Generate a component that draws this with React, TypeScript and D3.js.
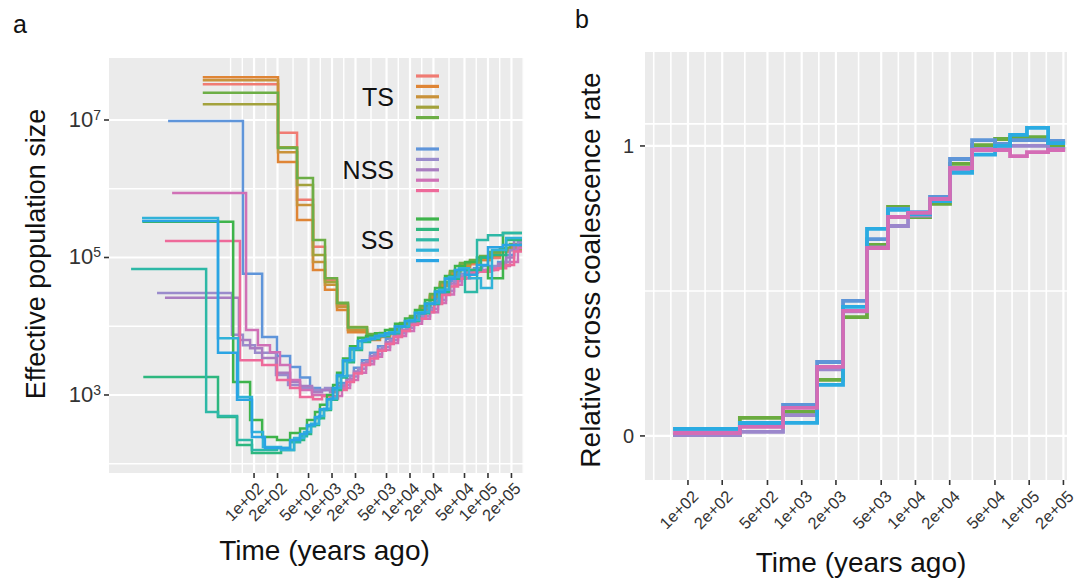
import React from "react";
import * as d3 from "d3";

const W = 1077;
const H = 585;
const FONT = "'Liberation Sans', Arial, Helvetica, sans-serif";

// ---------------- Panel a data ----------------
const A_X_BREAKS = [100, 200, 500, 1000, 2000, 5000, 10000, 20000, 50000, 100000, 200000];
const A_X_LABELS = ["1e+02", "2e+02", "5e+02", "1e+03", "2e+03", "5e+03", "1e+04", "2e+04", "5e+04", "1e+05", "2e+05"];
const A_Y_BREAKS = [1e3, 1e5, 1e7];
const A_Y_EXPONENTS = ["3", "5", "7"];
const A_Y_MINOR = [1e2, 1e4, 1e6];

// TS group: shared time boundaries (years)
const TS_TIMES = [22, 203, 356, 570, 813, 1160, 1604, 2810, 4125, 5540, 7450, 10000, 13440, 18060, 24260, 32590, 43780, 58800, 78980, 106100, 142500, 191400, 272800];
const TS_SALMON = [3.3e7, 6.5e6, 6.9e5, 1.43e5, 4.7e4, 2.0e4, 8800, 6800, 7200, 8200, 10000, 12700, 17800, 26600, 40000, 57500, 75000, 80000, 92000, 98000, 120000, 129000];
const TS_ORANGE = [4.2e7, 2.45e6, 3.5e5, 6.6e4, 3.4e4, 1.72e4, 8200, 6300, 7000, 8000, 9750, 12300, 17200, 25800, 38500, 55600, 72800, 83200, 92000, 105000, 129000, 147000];
const TS_BROWN = [3.8e7, 3.4e6, 5.8e5, 8.6e4, 4.0e4, 1.9e4, 8800, 7000, 7500, 8500, 10400, 13000, 18400, 27500, 41200, 59600, 77800, 86000, 100000, 112000, 129000, 137000];
const TS_OLIVE = [1.7e7, 4.0e6, 1.13e6, 1.09e5, 4.4e4, 2.1e4, 9750, 7500, 7700, 8800, 10900, 13600, 19000, 28500, 42600, 61500, 80400, 88900, 101600, 112400, 129000, 129000];
const TS_GREEN = [2.5e7, 3.9e6, 1.43e6, 1.8e5, 5.0e4, 2.2e4, 9600, 7700, 8000, 9100, 11100, 14100, 19700, 29500, 44000, 63700, 83200, 92000, 105000, 120000, 137000, 157000];

// NSS group: two staggered time grids for the later segments
const NSS_RISE_A = [943, 1194, 1540, 1910, 2420, 3071, 3888, 4900, 6200, 7900, 10000, 12700, 16000, 20400, 25800, 32600, 41300, 52400, 66400, 84100, 106000, 135000, 171000, 216000, 273000];
const NSS_RISE_B = [1060, 1343, 1702, 2154, 2730, 3454, 4375, 5543, 7017, 8890, 11250, 14250, 18060, 22860, 28950, 36650, 46400, 58800, 74430, 94200, 119400, 151000, 191400, 242400, 273000];

const NSS_BLUE_EARLY_T = [7.9, 72, 127, 197, 290, 389, 522, 701];
const NSS_BLUE = [9.7e6, 5.8e4, 7000, 3700, 2550, 1800, 1260, 1180, 1180, 1490, 1900, 2500, 3200, 4100, 5100, 6600, 8200, 9900, 12300, 14600, 18500, 25000, 34000, 46000, 58000, 66000, 70000, 75000, 70000, 86000, 109000, 152000];
const NSS_LAV_EARLY_T = [5.7, 52, 72, 103, 191, 273, 389, 570, 813];
const NSS_LAV = [3.05e4, 7500, 5300, 4100, 1950, 1400, 1260, 1180, 1260, 1260, 1400, 1850, 2400, 3100, 3900, 5000, 6300, 7900, 9500, 11900, 14000, 17800, 24000, 32600, 45000, 56000, 66000, 62000, 66000, 75000, 86000, 129000, 167000];
const NSS_PURPLE_EARLY_T = [7.2, 64, 89, 127, 197, 290, 389, 554, 744];
const NSS_PURPLE = [2.6e4, 6300, 4800, 3450, 2100, 1550, 1350, 1100, 1180, 1100, 1350, 1700, 2200, 2900, 3700, 4600, 5900, 7500, 8800, 11100, 13000, 16700, 22700, 30000, 42000, 52000, 62000, 66000, 66000, 70000, 81000, 100000, 180000];
const NSS_MAGENTA_EARLY_T = [8.9, 79, 112, 160, 215, 290, 389, 554, 813];
const NSS_MAGENTA = [8.7e5, 8800, 5300, 4200, 2730, 1650, 1180, 1000, 970, 970, 1260, 1650, 2100, 2800, 3600, 4500, 5700, 7200, 8500, 10900, 12800, 16000, 21800, 29000, 40000, 50000, 60000, 64000, 66000, 70000, 75000, 86000, 137000];
const NSS_PINK_EARLY_T = [7.2, 66, 127, 197, 290, 389, 570, 744];
const NSS_PINK = [1.74e5, 3200, 2730, 1650, 1260, 935, 870, 970, 890, 1180, 1550, 2050, 2730, 3400, 4400, 5500, 7000, 8500, 10400, 12800, 16000, 21000, 28500, 38000, 49000, 58000, 62000, 62000, 66000, 70000, 78000, 122000];

// SS group
const SS_RISE_A = [197, 290, 389, 478, 605, 701, 863, 1030, 1160, 1384, 1702, 2154, 2730, 3559, 4782, 6425, 8630, 11590, 15580, 20930, 28120, 37770, 50730, 72300, 100000, 155700, 272800];
const SS_RISE_B = [222, 326, 438, 538, 681, 789, 970, 1160, 1303, 1556, 1910, 2420, 3071, 4005, 5380, 7230, 9710, 13030, 17520, 23540, 31620, 42480, 57060, 81300, 112500, 171000, 272800];

const SS_GREEN_EARLY_T = [3.7, 54, 89, 127];
const SS_GREEN = [3.3e5, 1550, 433, 245, 221, 280, 325, 433, 566, 720, 1000, 1400, 2100, 3400, 5100, 6800, 7200, 7900, 8800, 10900, 13000, 17200, 24000, 36000, 54000, 75000, 86000, 100000, 50000, 227000];
const SS_TEALGREEN_EARLY_T = [3.8, 34.5, 60.5, 94];
const SS_TEALGREEN = [1830, 478, 187, 143, 158, 221, 270, 366, 460, 605, 850, 1180, 1800, 3000, 4500, 5900, 6500, 7200, 7900, 9900, 11900, 15500, 21000, 31500, 49000, 66000, 66000, 100000, 109000, 180000];
const SS_TEAL_EARLY_T = [2.65, 24.3, 34.5, 60.5, 94];
const SS_TEAL = [6.8e4, 566, 496, 221, 158, 170, 205, 250, 350, 460, 605, 870, 1240, 1870, 3100, 4600, 6100, 6500, 7200, 7900, 9900, 11900, 16000, 21800, 32600, 50000, 66000, 31500, 180000, 210000, 227000];
const SS_CYAN_EARLY_T = [3.66, 34.5, 62.4, 94, 130];
const SS_CYAN = [3.76e5, 6700, 935, 290, 175, 158, 237, 290, 380, 496, 630, 890, 1260, 1870, 3200, 4800, 6300, 6800, 7500, 8200, 10000, 12300, 16000, 21800, 34000, 52000, 70000, 50000, 36000, 129000, 192000];
const SS_BLUECYAN_EARLY_T = [3.66, 34.5, 60.5, 94, 138];
const SS_BLUECYAN = [3.4e5, 4100, 850, 245, 170, 170, 221, 270, 366, 478, 620, 870, 1260, 1950, 3200, 4800, 6100, 6500, 7200, 7900, 9900, 11900, 15500, 21000, 31500, 49000, 66000, 56000, 78000, 141000, 152000];

const GROUPS = ["TS", "NSS", "SS"];
const TS_COLORS = ["#F07B73", "#DF8535", "#C9923A", "#A3A23C", "#6DAE46"];
const NSS_COLORS = ["#5F95DA", "#9A8BCC", "#A97CC1", "#D070B6", "#EE6A9A"];
const SS_COLORS = ["#3EB44B", "#2DB77F", "#2DB8A6", "#31B2D9", "#2AA4E4"];

// ---------------- Panel b data ----------------
const B_X_BREAKS = A_X_BREAKS;
const B_X_LABELS = A_X_LABELS;
const B_Y_BREAKS = [0, 1];
const B_Y_LABELS = ["0", "1"];
const B_Y_MINOR = [0.5, 1.076];
const B_TIMES = [74, 286, 685, 1365, 2308, 3750, 5740, 8610, 13430, 20130, 31470, 50100, 67900, 95600, 146600, 207000];
const B_GREEN = [0.003, 0.062, 0.083, 0.193, 0.41, 0.659, 0.79, 0.755, 0.8, 0.938, 1.003, 1.024, 1.03, 1.03, 0.997];
const B_PURPLE = [0.003, 0.014, 0.072, 0.23, 0.43, 0.65, 0.724, 0.76, 0.81, 0.92, 0.99, 1.0, 1.0, 1.0, 0.99];
const B_BLUE = [0.024, 0.035, 0.107, 0.255, 0.466, 0.679, 0.783, 0.772, 0.824, 0.955, 1.02, 1.007, 1.02, 1.02, 1.017];
const B_CYAN = [0.024, 0.045, 0.045, 0.176, 0.445, 0.714, 0.78, 0.765, 0.81, 0.907, 0.97, 1.0, 1.038, 1.062, 1.01];
const B_PINK = [0.01, 0.031, 0.097, 0.238, 0.431, 0.648, 0.755, 0.769, 0.817, 0.924, 0.986, 0.986, 0.965, 0.979, 0.986];
const B_COLORS = ["#6AAB3F", "#9B87CC", "#5E95D8", "#2AABE2", "#D46CB5"];

type Series = { times: number[]; vals: number[]; color: string };

const TS_SERIES: Series[] = [TS_SALMON, TS_ORANGE, TS_BROWN, TS_OLIVE, TS_GREEN].map((v, i) => ({ times: TS_TIMES, vals: v, color: TS_COLORS[i] }));
const NSS_SERIES: Series[] = [
  { times: [...NSS_BLUE_EARLY_T, ...NSS_RISE_A], vals: NSS_BLUE, color: NSS_COLORS[0] },
  { times: [...NSS_LAV_EARLY_T, ...NSS_RISE_B], vals: NSS_LAV, color: NSS_COLORS[1] },
  { times: [...NSS_PURPLE_EARLY_T, ...NSS_RISE_A], vals: NSS_PURPLE, color: NSS_COLORS[2] },
  { times: [...NSS_MAGENTA_EARLY_T, ...NSS_RISE_B], vals: NSS_MAGENTA, color: NSS_COLORS[3] },
  { times: [...NSS_PINK_EARLY_T, ...NSS_RISE_A], vals: NSS_PINK, color: NSS_COLORS[4] },
];
const SS_SERIES: Series[] = [
  { times: [...SS_GREEN_EARLY_T, ...SS_RISE_A], vals: SS_GREEN, color: SS_COLORS[0] },
  { times: [...SS_TEALGREEN_EARLY_T, ...SS_RISE_B], vals: SS_TEALGREEN, color: SS_COLORS[1] },
  { times: [...SS_TEAL_EARLY_T, ...SS_RISE_A], vals: SS_TEAL, color: SS_COLORS[2] },
  { times: [...SS_CYAN_EARLY_T, ...SS_RISE_B], vals: SS_CYAN, color: SS_COLORS[3] },
  { times: [...SS_BLUECYAN_EARLY_T, ...SS_RISE_A], vals: SS_BLUECYAN, color: SS_COLORS[4] },
];
const B_SERIES: Series[] = [B_GREEN, B_PURPLE, B_BLUE, B_CYAN, B_PINK].map((v, i) => ({ times: B_TIMES, vals: v, color: B_COLORS[i] }));

// ---------------- layout ----------------
const PA = { left: 109, right: 524, top: 58, bottom: 473 };
const PB = { left: 645, right: 1067, top: 52, bottom: 480 };

const ax = d3.scaleLog().domain([1.38, 289700]).range([PA.left, PA.right]);
const ay = d3.scaleLog().domain([73.3, 7.98e7]).range([PA.bottom, PA.top]);
const bx = d3.scaleLog().domain([41.9, 215000]).range([PB.left, PB.right]);
const by = d3.scaleLinear().domain([-0.152, 1.324]).range([PB.bottom, PB.top]);

// ggplot-style minor breaks (midpoints in transformed space, with one extension step)
function logMinor(breaks: number[], lo: number, hi: number): number[] {
  const lb = breaks.map((b) => Math.log10(b));
  const bd = lb[1] - lb[0];
  const ext = [lb[0] - bd, ...lb, lb[lb.length - 1] + bd];
  const out: number[] = [];
  for (let i = 0; i < ext.length - 1; i++) {
    out.push(ext[i], (ext[i] + ext[i + 1]) / 2);
  }
  out.push(ext[ext.length - 1]);
  return out.map((v) => Math.pow(10, v)).filter((v) => v >= lo && v <= hi && !breaks.some((b) => Math.abs(Math.log10(b) - Math.log10(v)) < 1e-6));
}

function stepPath(xs: any, ys: any, s: Series): string {
  const pts: [number, number][] = s.vals.map((v, i) => [s.times[i], v]);
  pts.push([s.times[s.vals.length], s.vals[s.vals.length - 1]]);
  return (
    d3
      .line<[number, number]>()
      .x((d) => xs(d[0]))
      .y((d) => ys(d[1]))
      .curve(d3.curveStepAfter)(pts) || ""
  );
}

const GRID = "#FFFFFF";
const BG = "#EBEBEB";
const TICK = "#333333";

export default function App() {
  const aMinorX = logMinor(A_X_BREAKS, ax.domain()[0], ax.domain()[1]);
  const bMinorX = logMinor(B_X_BREAKS, bx.domain()[0], bx.domain()[1]);

  const legendGroups = [
    { label: GROUPS[0], colors: TS_COLORS, top: 76 },
    { label: GROUPS[1], colors: NSS_COLORS, top: 149 },
    { label: GROUPS[2], colors: SS_COLORS, top: 219 },
  ];

  return (
    <svg
      width={W}
      height={H}
      viewBox={`0 0 ${W} ${H}`}
      style={{ position: "absolute", left: 0, top: 0, background: "#fff" }}
      fontFamily={FONT}
    >
      <defs>
        <clipPath id="clipA">
          <rect x={PA.left} y={PA.top} width={PA.right - PA.left} height={PA.bottom - PA.top} />
        </clipPath>
        <clipPath id="clipB">
          <rect x={PB.left} y={PB.top} width={PB.right - PB.left} height={PB.bottom - PB.top} />
        </clipPath>
      </defs>

      {/* ================= Panel a ================= */}
      <text x={13} y={33} fontSize={25} fill="#111">a</text>
      <rect x={PA.left} y={PA.top} width={PA.right - PA.left} height={PA.bottom - PA.top} fill={BG} />
      <g clipPath="url(#clipA)">
        {A_Y_MINOR.map((v) => (
          <line key={"aym" + v} x1={PA.left} x2={PA.right} y1={ay(v)} y2={ay(v)} stroke={GRID} strokeWidth={1.4} />
        ))}
        {aMinorX.map((v) => (
          <line key={"axm" + v} y1={PA.top} y2={PA.bottom} x1={ax(v)} x2={ax(v)} stroke={GRID} strokeWidth={1.4} />
        ))}
        {A_Y_BREAKS.map((v) => (
          <line key={"ay" + v} x1={PA.left} x2={PA.right} y1={ay(v)} y2={ay(v)} stroke={GRID} strokeWidth={2.2} />
        ))}
        {A_X_BREAKS.map((v) => (
          <line key={"ax" + v} y1={PA.top} y2={PA.bottom} x1={ax(v)} x2={ax(v)} stroke={GRID} strokeWidth={2.2} />
        ))}
        {[...TS_SERIES, ...NSS_SERIES, ...SS_SERIES].map((s, i) => (
          <path key={"as" + i} d={stepPath(ax, ay, s)} fill="none" stroke={s.color} strokeWidth={2.5} strokeLinejoin="miter" />
        ))}
      </g>
      {/* legend */}
      {legendGroups.map((g) => (
        <g key={g.label}>
          <text x={394} y={g.top + 21} dy="0.35em" textAnchor="end" fontSize={25} fill="#111">
            {g.label}
          </text>
          {g.colors.map((c, i) => (
            <line key={c} x1={416} x2={439} y1={g.top + i * 10.4} y2={g.top + i * 10.4} stroke={c} strokeWidth={3.2} />
          ))}
        </g>
      ))}
      {/* axes a */}
      {A_Y_BREAKS.map((v, i) => (
        <g key={"ayt" + v}>
          <line x1={PA.left - 5} x2={PA.left} y1={ay(v)} y2={ay(v)} stroke={TICK} strokeWidth={1.6} />
          <text x={PA.left - 8} y={ay(v)} dy="0.3em" textAnchor="end" fontSize={22} fill="#333">
            10<tspan dy="-0.5em" fontSize={14}>{A_Y_EXPONENTS[i]}</tspan>
          </text>
        </g>
      ))}
      {A_X_BREAKS.map((v, i) => (
        <g key={"axt" + v}>
          <line x1={ax(v)} x2={ax(v)} y1={PA.bottom} y2={PA.bottom + 5} stroke={TICK} strokeWidth={1.6} />
          <text
            transform={`translate(${ax(v) + 2},${PA.bottom + 8}) rotate(-45)`}
            textAnchor="end"
            dy="0.72em"
            fontSize={16.5}
            fill="#333"
          >
            {A_X_LABELS[i]}
          </text>
        </g>
      ))}
      <text x={(PA.left + PA.right) / 2 + 8} y={560} textAnchor="middle" fontSize={28} fill="#111">
        Time (years ago)
      </text>
      <text transform={`translate(45,254) rotate(-90)`} textAnchor="middle" fontSize={27} fill="#111">
        Effective population size
      </text>

      {/* ================= Panel b ================= */}
      <text x={575} y={28} fontSize={25} fill="#111">b</text>
      <rect x={PB.left} y={PB.top} width={PB.right - PB.left} height={PB.bottom - PB.top} fill={BG} />
      <g clipPath="url(#clipB)">
        {B_Y_MINOR.map((v) => (
          <line key={"bym" + v} x1={PB.left} x2={PB.right} y1={by(v)} y2={by(v)} stroke={GRID} strokeWidth={1.6} />
        ))}
        {bMinorX.map((v) => (
          <line key={"bxm" + v} y1={PB.top} y2={PB.bottom} x1={bx(v)} x2={bx(v)} stroke={GRID} strokeWidth={1.6} />
        ))}
        {B_Y_BREAKS.map((v) => (
          <line key={"by" + v} x1={PB.left} x2={PB.right} y1={by(v)} y2={by(v)} stroke={GRID} strokeWidth={2.2} />
        ))}
        {B_X_BREAKS.map((v) => (
          <line key={"bx" + v} y1={PB.top} y2={PB.bottom} x1={bx(v)} x2={bx(v)} stroke={GRID} strokeWidth={2.2} />
        ))}
        {B_SERIES.map((s, i) => (
          <path key={"bs" + i} d={stepPath(bx, by, s)} fill="none" stroke={s.color} strokeWidth={3.8} />
        ))}
      </g>
      {B_Y_BREAKS.map((v, i) => (
        <g key={"byt" + v}>
          <line x1={PB.left - 5} x2={PB.left} y1={by(v)} y2={by(v)} stroke={TICK} strokeWidth={1.6} />
          <text x={PB.left - 11} y={by(v)} dy="0.35em" textAnchor="end" fontSize={20} fill="#333">
            {B_Y_LABELS[i]}
          </text>
        </g>
      ))}
      {B_X_BREAKS.map((v, i) => (
        <g key={"bxt" + v}>
          <line x1={bx(v)} x2={bx(v)} y1={PB.bottom} y2={PB.bottom + 5} stroke={TICK} strokeWidth={1.6} />
          <text
            transform={`translate(${bx(v) + 3},${PB.bottom + 9}) rotate(-45)`}
            textAnchor="end"
            dy="0.72em"
            fontSize={16.5}
            fill="#333"
          >
            {B_X_LABELS[i]}
          </text>
        </g>
      ))}
      <text x={(PB.left + PB.right) / 2 + 5} y={572} textAnchor="middle" fontSize={28} fill="#111">
        Time (years ago)
      </text>
      <text transform={`translate(600,270) rotate(-90)`} textAnchor="middle" fontSize={28} fill="#111">
        Relative cross coalescence rate
      </text>
    </svg>
  );
}
